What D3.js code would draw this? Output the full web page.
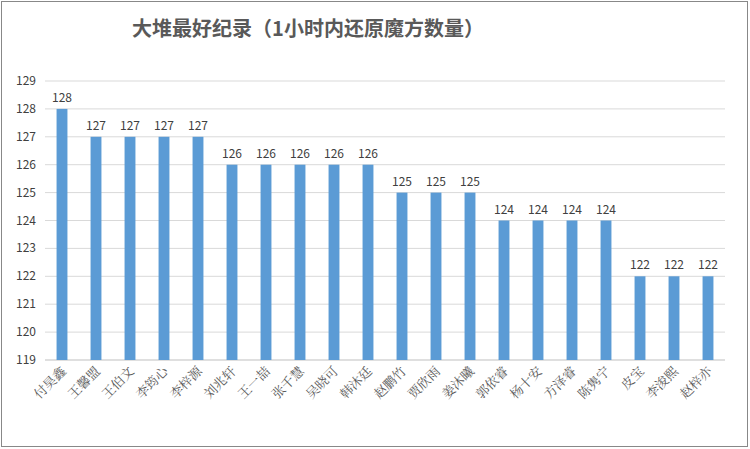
<!DOCTYPE html><html><head><meta charset="utf-8"><script src="https://cdn.jsdelivr.net/npm/d3@7"></script>
<style>body{margin:0;background:#fff}</style></head><body><svg id="c" width="750" height="449"></svg><script>
const names=["付昊鑫","王馨盟","王伯文","李筠心","李梓源","刘兆轩","王一喆","张千慧","吴晓可","韩沐廷","赵鹏竹","贾欣雨","姜沐曦","郭依睿","杨十安","方泽睿","陈隽宁","皮宝","李浚熙","赵梓亦"];
const values=[128,127,127,127,127,126,126,126,126,126,125,125,125,124,124,124,124,122,122,122];
const ticks=[119,120,121,122,123,124,125,126,127,128,129];
const svg=d3.select("#c");
svg.append("rect").attr("x",1.5).attr("y",1.5).attr("width",746).attr("height",445).attr("fill","#fff").attr("stroke","#888");
const x=d3.scaleBand().domain(names).range([45,725]).paddingInner(0.68).paddingOuter(0.34);
const y=d3.scaleLinear().domain([119,129]).range([360,81]);
const f="'Noto Sans CJK SC',sans-serif";
svg.append("g").selectAll("line").data(ticks).join("line").attr("x1",45).attr("x2",725).attr("y1",d=>y(d)).attr("y2",d=>y(d)).attr("stroke",d=>d===119?"#bfbfbf":"#d9d9d9");
svg.append("g").selectAll("text").data(ticks).join("text").attr("x",36).attr("y",d=>y(d)+4).attr("text-anchor","end").attr("font-size",12).attr("fill","#404040").attr("font-family",f).text(d=>d);
svg.append("g").selectAll("rect").data(values).join("rect").attr("x",(d,i)=>x(names[i])).attr("width",x.bandwidth()).attr("y",d=>y(d)).attr("height",d=>y(119)-y(d)).attr("fill","#5b9bd5");
svg.append("g").selectAll("text").data(values).join("text").attr("x",(d,i)=>x(names[i])+x.bandwidth()/2).attr("y",d=>y(d)-7).attr("text-anchor","middle").attr("font-size",12).attr("fill","#404040").attr("font-family",f).text(d=>d);
svg.append("g").selectAll("text").data(names).join("text").attr("transform",d=>`translate(${x(d)+x.bandwidth()/2+5},372) rotate(-45)`).attr("text-anchor","end").attr("font-size",13).attr("fill","#595959").attr("font-family","'Noto Serif CJK SC','Noto Sans CJK SC',serif").text(d=>d);
svg.append("text").attr("x",308).attr("y",36).attr("text-anchor","middle").attr("font-size",20).attr("font-weight","bold").attr("fill","#595959").attr("font-family",f).text("大堆最好纪录（1小时内还原魔方数量）");
</script></body></html>
